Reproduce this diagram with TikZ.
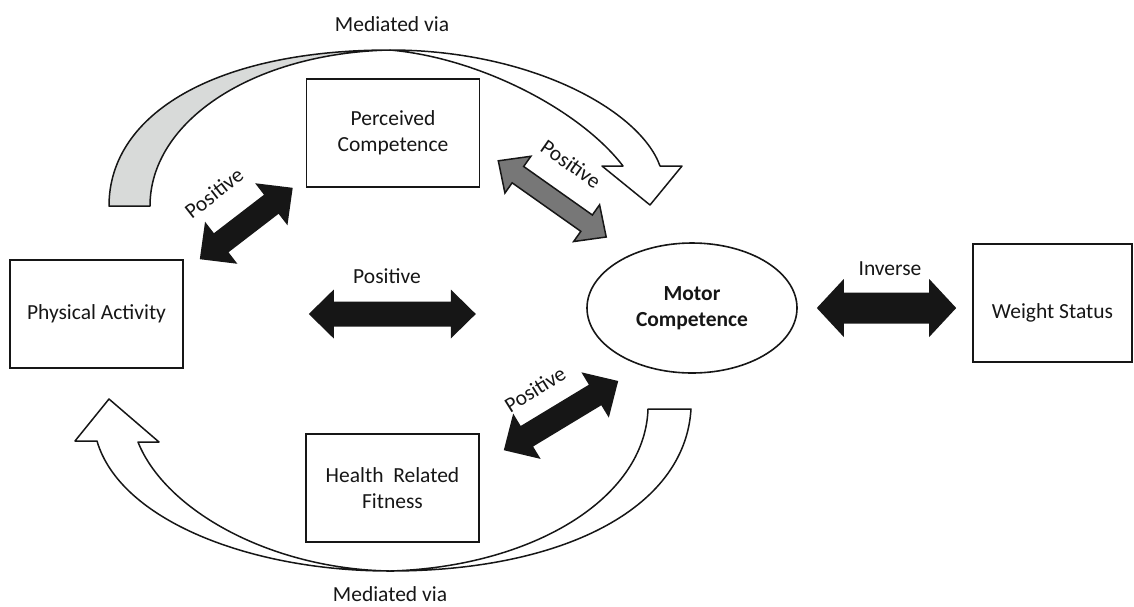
\documentclass[tikz,border=0pt]{standalone}
\usepackage{fontspec}
\setmainfont{Carlito}
\usepackage{xcolor}
\usepackage{tikz}
\usetikzlibrary{calc,positioning,shapes.geometric}

\definecolor{inkblack}{HTML}{161616}
\definecolor{arrowgray}{HTML}{777777}
\definecolor{bandgray}{HTML}{D8DAD9}

\newcommand{\diagfont}{\fontsize{21.5}{26}\selectfont}

\tikzset{
   concept/.style={draw=inkblack, line width=1.6pt, minimum width=173pt,
      minimum height=108pt, align=center, inner sep=0pt},
   outcome/.style={ellipse, draw=inkblack, line width=1.6pt, minimum width=210pt,
      minimum height=130pt, align=center, inner sep=0pt, font=\diagfont\bfseries},
   ribbon/.style={draw=inkblack, line width=1.5pt, fill=white, line join=round},
   solid link/.style={fill=inkblack},
   gray link/.style={fill=arrowgray, draw=inkblack, line width=1.5pt},
   link label/.style={inner sep=1pt}
}

% fat double arrow: style, from, to, shaft half width, head half width, head length
\newcommand{\fatlink}[6]{%
   \coordinate (fl-a) at ($(#2)!#6!(#3)$);
   \coordinate (fl-b) at ($(#3)!#6!(#2)$);
   \path[#1] (#2) -- ($(fl-a)!#5!90:(#3)$) -- ($(fl-a)!#4!90:(#3)$)
      -- ($(fl-b)!#4!-90:(#2)$) -- ($(fl-b)!#5!-90:(#2)$) -- (#3)
      -- ($(fl-b)!#5!90:(#2)$) -- ($(fl-b)!#4!90:(#2)$)
      -- ($(fl-a)!#4!-90:(#3)$) -- ($(fl-a)!#5!-90:(#3)$) -- cycle;
}

\begin{document}
\begin{tikzpicture}[x=1pt, y=-1pt, text=inkblack, font=\diagfont]
   \useasboundingbox (0,0) rectangle (1134,606);

   % Boxes
   \node[concept] (pa) at (96.5,314) {Physical Activity};
   \node[concept] (pc) at (393,133) {Perceived\\Competence};
   \node[concept] (hrf) at (392.5,488) {Health\ \ Related\\Fitness};
   \node[outcome] (mc) at (692,308) {Motor\\Competence};
   \node[concept, minimum width=159pt, minimum height=118pt,
      text height=35pt, text depth=4.5pt] (ws) at (1052.5,303) {Weight Status};

   % Top ribbon (mediated via perceived competence)
   \draw[ribbon, fill=bandgray] (109,206) .. controls (109,113) and (217,50) .. (390,50)
      .. controls (253,53) and (150,121) .. (150,206) -- cycle;
   \draw[ribbon] (390,50) .. controls (530,50) and (640,110) .. (660,166)
      -- (682,166) -- (650,205) -- (602,166) -- (623,166)
      .. controls (580,110) and (480,58) .. (390,50) -- cycle;

   % Bottom ribbon (mediated via fitness)
   \draw[ribbon] (390,571) .. controls (250,571) and (120,520) .. (97,441)
      -- (75,441) -- (109,399) -- (159,442) -- (138,442)
      .. controls (165,510) and (270,569) .. (390,571) -- cycle;
   \draw[ribbon] (390,571) .. controls (560,571) and (685,510) .. (691,409)
      -- (648,409) .. controls (645,500) and (530,567) .. (390,571) -- cycle;

   % Arrow ends
   \coordinate (pa-pc-a) at ($(pa.north east)+(16,0)$);
   \coordinate (pa-pc-b) at ($(pc.south west)+(-13,0)$);
   \coordinate (pa-mc-a) at ($(pa.east)+(125,0)$);
   \coordinate (pa-mc-b) at ($(pa.east)+(292,0)$);
   \coordinate (pc-mc-a) at ($(pc.south east)+(18,-27)$);
   \coordinate (pc-mc-b) at ($(mc.west)+(20,-71)$);
   \coordinate (hrf-mc-a) at ($(hrf.north east)+(24,17)$);
   \coordinate (hrf-mc-b) at ($(mc.west)+(32,73)$);
   \coordinate (mc-ws-a) at ($(mc.east)+(19,0)$);
   \coordinate (mc-ws-b) at ($(ws.west)+(-16,5)$);

   % Double arrows
   \fatlink{solid link}{pa-pc-a}{pa-pc-b}{12pt}{26.5pt}{27pt}
   \fatlink{solid link}{pa-mc-a}{pa-mc-b}{12.5pt}{24.5pt}{25pt}
   \fatlink{gray link}{pc-mc-a}{pc-mc-b}{10pt}{22.5pt}{24pt}
   \fatlink{solid link}{hrf-mc-a}{hrf-mc-b}{12pt}{26.5pt}{27pt}
   \fatlink{solid link}{mc-ws-a}{mc-ws-b}{15.5pt}{29pt}{27pt}

   % Labels
   \node[anchor=base] (via-top) at (392,31) {Mediated via};
   \node[anchor=base] (via-bottom) at (390,601) {Mediated via};
   \node[link label, rotate=38] (lbl-pa-pc) at (214,193) {Positive};
   \node[link label] (lbl-pa-mc) at (387,276) {Positive};
   \node[link label, rotate=-35] (lbl-pc-mc) at (571,164) {Positive};
   \node[link label, rotate=32] (lbl-hrf-mc) at (535,389) {Positive};
   \node[link label] (lbl-mc-ws) at (890,269) {Inverse};
\end{tikzpicture}
\end{document}
